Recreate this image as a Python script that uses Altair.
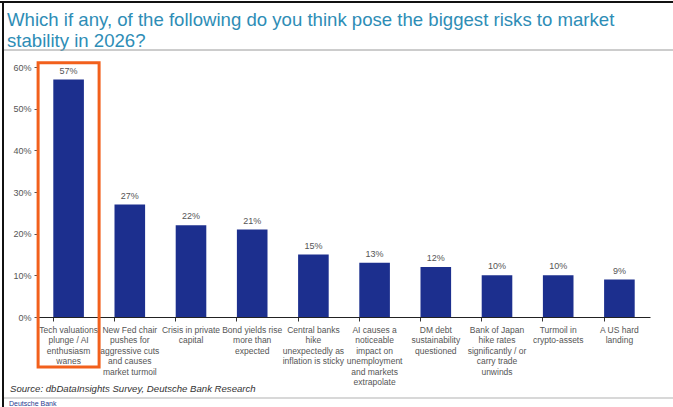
import altair as alt
import pandas as pd

categories = [
    "Tech valuations\nplunge / AI\nenthusiasm\nwanes",
    "New Fed chair\npushes for\naggressive cuts\nand causes\nmarket turmoil",
    "Crisis in private\ncapital",
    "Bond yields rise\nmore than\nexpected",
    "Central banks\nhike\nunexpectedly as\ninflation is sticky",
    "AI causes a\nnoticeable\nimpact on\nunemployment\nand markets\nextrapolate",
    "DM debt\nsustainability\nquestioned",
    "Bank of Japan\nhike rates\nsignificantly / or\ncarry trade\nunwinds",
    "Turmoil in\ncrypto-assets",
    "A US hard\nlanding",
]
values = [57, 27, 22, 21, 15, 13, 12, 10, 10, 9]
y_ticks = [0, 10, 20, 30, 40, 50, 60]

title_lines = [
    "Which if any, of the following do you think pose the biggest risks to market",
    "stability in 2026?",
]
source_text = "Source: dbDataInsights Survey, Deutsche Bank Research"
brand_text = "Deutsche Bank"

highlight_cat = [categories[0]]
highlight_top = [61]
highlight_bottom = [-12]

df = pd.DataFrame({"cat": categories, "val": values,
                   "lab": [f"{v}%" for v in values]})
hl = pd.DataFrame({"cat": highlight_cat, "top": highlight_top, "bot": highlight_bottom})

FONT = "Liberation Sans"
BAR = "#1c2f8e"
ORANGE = "#f2601c"
TEAL = "#2e8db6"
H = 250

xenc = alt.X("cat:N", sort=categories, title=None,
             scale=alt.Scale(paddingInner=0.5, paddingOuter=0.25),
             axis=alt.Axis(labelAngle=0, labelExpr="split(datum.value, '\\n')",
                           labelFontSize=8.5, labelColor="#555555", labelFont=FONT,
                           labelLineHeight=10.5, labelPadding=4, labelBaseline="top",
                           bandPosition=0, tickSize=4, tickColor="#333333",
                           domainColor="#222222", domainWidth=1))
yenc = alt.Y("val:Q", title=None,
             scale=alt.Scale(domain=[0, 60], nice=False),
             axis=alt.Axis(values=y_ticks, labelExpr="datum.value + '%'",
                           labelFontSize=9, labelColor="#555555", labelFont=FONT,
                           tickSize=4, tickColor="#555555", labelPadding=3,
                           domainColor="#777777", grid=False))

bars = alt.Chart(df).mark_bar(color=BAR).encode(x=xenc, y=yenc)

labels = alt.Chart(df).mark_text(baseline="bottom", dy=-4, fontSize=9,
                                 color="#555555", font=FONT).encode(
    x=alt.X("cat:N", sort=categories), y="val:Q", text="lab:N")

box = alt.Chart(hl).mark_bar(size=61, fillOpacity=0, stroke=ORANGE,
                             strokeWidth=3, clip=False).encode(
    x=alt.X("cat:N", sort=categories), y="top:Q", y2="bot:Q")

title1 = alt.Chart(pd.DataFrame({"t": [title_lines[0]]})).mark_text(
    align="left", baseline="alphabetic", fontSize=18.6, color=TEAL, font=FONT).encode(
    x=alt.value(-31), y=alt.value(-41), text="t:N")
title2 = alt.Chart(pd.DataFrame({"t": [title_lines[1]]})).mark_text(
    align="left", baseline="alphabetic", fontSize=18.6, color=TEAL, font=FONT).encode(
    x=alt.value(-31), y=alt.value(-20), text="t:N")

title_rule = alt.Chart(pd.DataFrame({"a": [0]})).mark_rule(
    color="#9a9a9a", strokeWidth=1).encode(
    x=alt.value(-35), x2=alt.value(640), y=alt.value(-17))

source = alt.Chart(pd.DataFrame({"t": [source_text]})).mark_text(
    align="left", baseline="alphabetic", fontSize=9.6, fontStyle="italic",
    color="#333333", font=FONT).encode(x=alt.value(-28), y=alt.value(H + 75), text="t:N")

foot_rule = alt.Chart(pd.DataFrame({"a": [0]})).mark_rule(
    color="#d8d8d8", strokeWidth=2).encode(
    x=alt.value(-35), x2=alt.value(640), y=alt.value(H + 81))

brand = alt.Chart(pd.DataFrame({"t": [brand_text]})).mark_text(
    align="left", baseline="alphabetic", fontSize=7, color="#1f3b8f",
    font=FONT).encode(x=alt.value(-29), y=alt.value(H + 89), text="t:N")

frame_top = alt.Chart(pd.DataFrame({"a": [0]})).mark_rule(
    color="#111111", strokeWidth=2).encode(
    x=alt.value(-38), x2=alt.value(640), y=alt.value(-65))
frame_left = alt.Chart(pd.DataFrame({"a": [0]})).mark_rule(
    color="#111111", strokeWidth=2).encode(
    x=alt.value(-35), y=alt.value(-66), y2=alt.value(H + 90))

chart = alt.layer(bars, labels, box, title1, title2, title_rule, source,
                  foot_rule, brand, frame_top, frame_left).properties(
    width=612, height=H,
    autosize=alt.AutoSizeParams(type="none"),
    padding={"left": 38, "top": 67, "right": 23, "bottom": 90},
    background="white",
).configure_view(stroke=None)

chart.save("out.html", embed_options={"renderer": "svg", "actions": False})
